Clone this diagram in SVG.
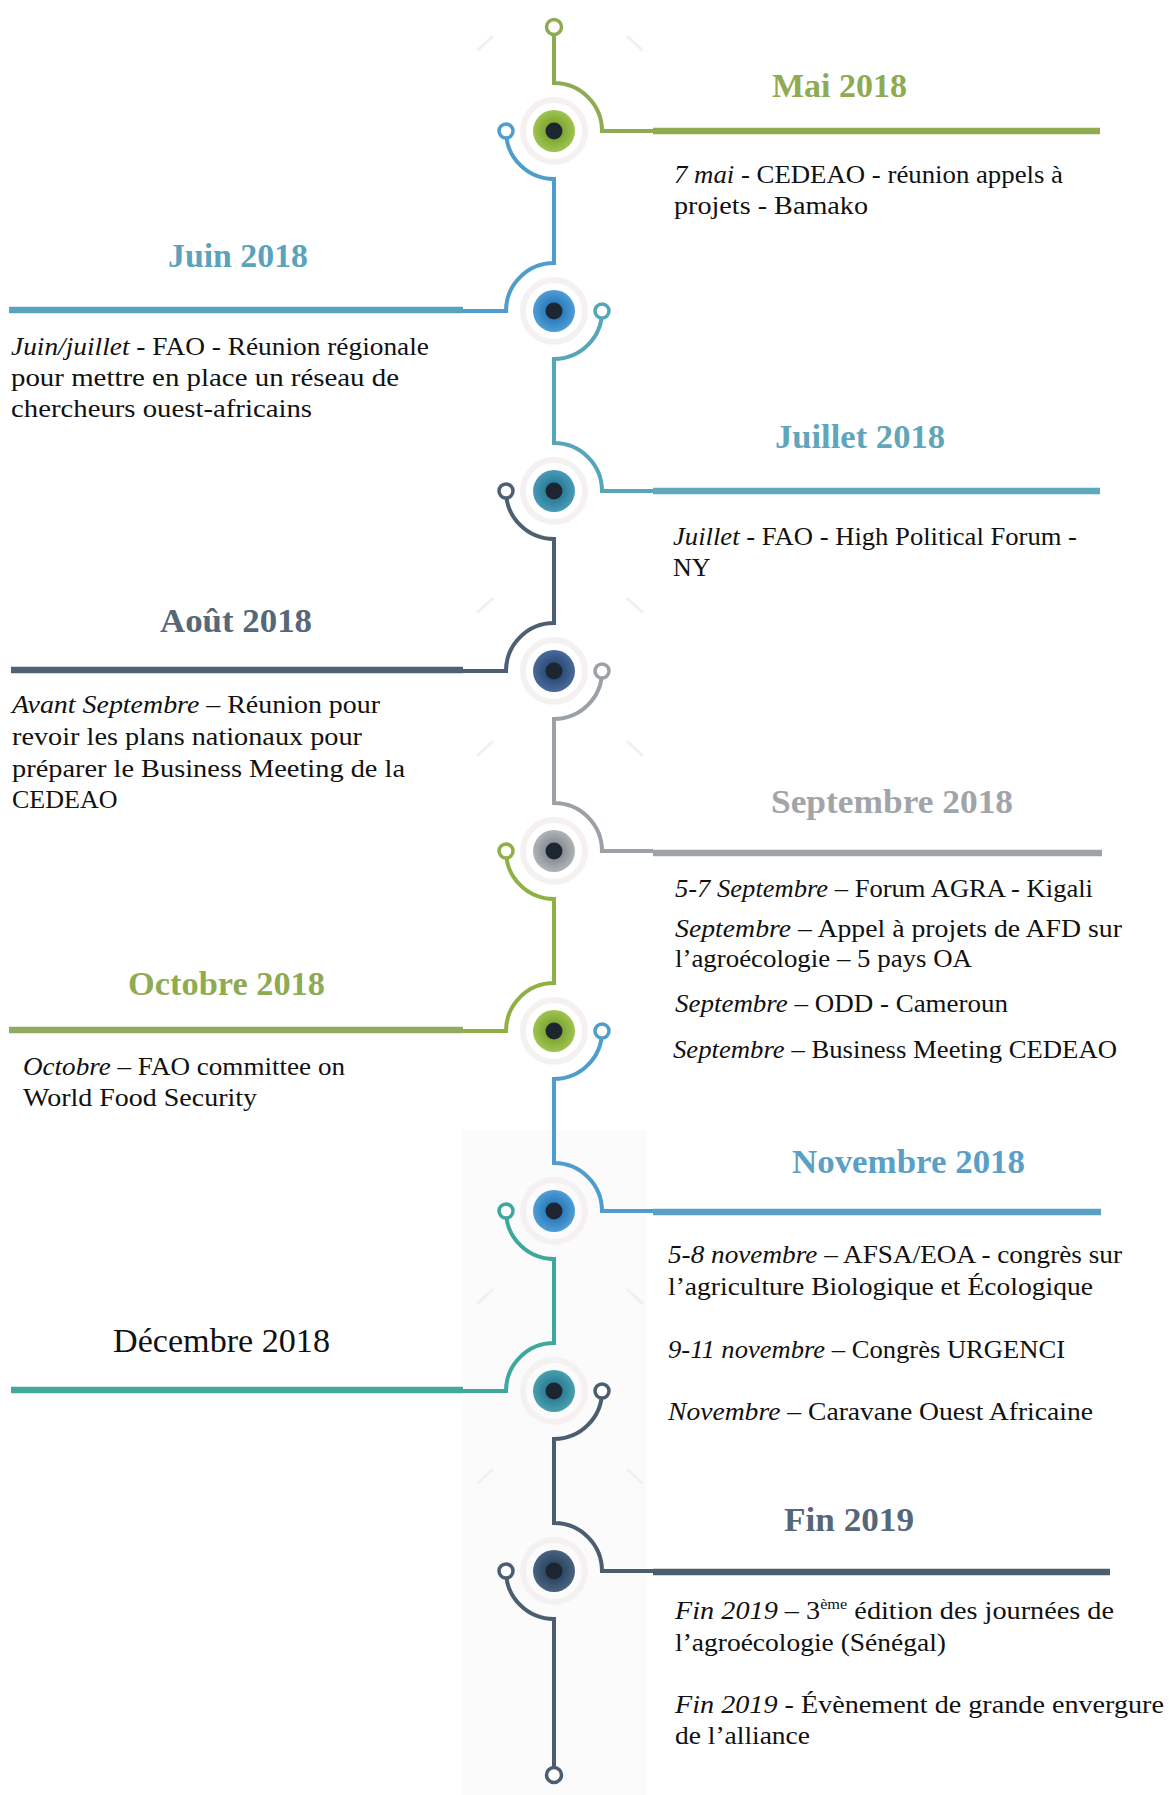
<svg xmlns="http://www.w3.org/2000/svg" width="1169" height="1795" viewBox="0 0 1169 1795">
  <defs>
    <style>
      .hd { font-family: "Liberation Serif", "Times New Roman", serif; font-weight: bold; font-size: 33px; }
      .tx { font-family: "Liberation Serif", "Times New Roman", serif; font-size: 26px; fill: #111; }
      .it { font-style: italic; }
      .thick { fill: none; stroke-width: 6.5; }
      .wire { fill: none; stroke-width: 4; }
      .tip { fill: #fff; stroke-width: 3.5; }
      .halo { fill: none; stroke: #f5f1f1; stroke-width: 6; }
      .pupil { fill: #1d2630; }
      .deco { stroke: #eef0f2; stroke-width: 3; stroke-linecap: round; fill: none; }
    </style>
    <radialGradient id="gGreen"><stop offset="0.45" stop-color="#82a836"/><stop offset="1" stop-color="#9fc450"/></radialGradient>
    <radialGradient id="gBlue"><stop offset="0.45" stop-color="#2f7fbe"/><stop offset="1" stop-color="#4f9ed6"/></radialGradient>
    <radialGradient id="gTeal"><stop offset="0.45" stop-color="#2e7f9c"/><stop offset="1" stop-color="#4a9bb8"/></radialGradient>
    <radialGradient id="gNavy"><stop offset="0.45" stop-color="#2f4f7f"/><stop offset="1" stop-color="#4a6a9a"/></radialGradient>
    <radialGradient id="gGrey"><stop offset="0.45" stop-color="#8d9297"/><stop offset="1" stop-color="#b0b4b8"/></radialGradient>
    <radialGradient id="gSea"><stop offset="0.45" stop-color="#2e8197"/><stop offset="1" stop-color="#4aa0b0"/></radialGradient>
    <radialGradient id="gSlate"><stop offset="0.45" stop-color="#304a66"/><stop offset="1" stop-color="#4a6380"/></radialGradient>
  </defs>

  <rect width="1169" height="1795" fill="#ffffff"/>

  <!-- soft backdrop behind the lower spine -->
  <rect x="463" y="1130" width="184" height="665" fill="#fbfbfc"/>

  <!-- faint corner ticks around the spine -->
  <g id="ticks" class="deco">
    <path d="M478,50 L492,37 M628,37 L642,50"/>
    <path d="M478,612 L492,599 M628,599 L642,612"/>
    <path d="M478,755 L492,742 M628,742 L642,755"/>
    <path d="M478,1303 L492,1290 M628,1290 L642,1303"/>
    <path d="M478,1483 L492,1470 M628,1470 L642,1483"/>
  </g>

  <!-- spine: stems, arcs and end tips -->
  <g id="connectors">
    <!-- top stem into Mai -->
    <path class="wire" stroke="#8fab52" d="M554,35 V83 A48,48 0 0 1 602,131 H653"/>
    <circle class="tip" stroke="#8fab52" cx="554" cy="27" r="7.5"/>
    <!-- Mai -> Juin -->
    <path class="wire" stroke="#4f9dcc" d="M506,131 A48,48 0 0 0 554,179 V263 A48,48 0 0 0 506,311 H463"/>
    <circle class="tip" stroke="#4f9dcc" cx="506" cy="131" r="7"/>
    <!-- Juin -> Juillet -->
    <path class="wire" stroke="#55a6b8" d="M602,311 A48,48 0 0 1 554,359 V443 A48,48 0 0 1 602,491 H653"/>
    <circle class="tip" stroke="#55a6b8" cx="602" cy="311" r="7"/>
    <!-- Juillet -> Aout -->
    <path class="wire" stroke="#4d6072" d="M506,491 A48,48 0 0 0 554,539 V623 A48,48 0 0 0 506,671 H463"/>
    <circle class="tip" stroke="#4d6072" cx="506" cy="491" r="7"/>
    <!-- Aout -> Septembre -->
    <path class="wire" stroke="#9ca1a7" d="M602,671 A48,48 0 0 1 554,719 V803 A48,48 0 0 1 602,851 H653"/>
    <circle class="tip" stroke="#9ca1a7" cx="602" cy="671" r="7"/>
    <!-- Septembre -> Octobre -->
    <path class="wire" stroke="#8fb044" d="M506,851 A48,48 0 0 0 554,899 V983 A48,48 0 0 0 506,1031 H463"/>
    <circle class="tip" stroke="#8fb044" cx="506" cy="851" r="7"/>
    <!-- Octobre -> Novembre -->
    <path class="wire" stroke="#4f9dcc" d="M602,1031 A48,48 0 0 1 554,1079 V1163 A48,48 0 0 1 602,1211 H653"/>
    <circle class="tip" stroke="#4f9dcc" cx="602" cy="1031" r="7"/>
    <!-- Novembre -> Decembre -->
    <path class="wire" stroke="#3fa79b" d="M506,1211 A48,48 0 0 0 554,1259 V1343 A48,48 0 0 0 506,1391 H463"/>
    <circle class="tip" stroke="#3fa79b" cx="506" cy="1211" r="7"/>
    <!-- Decembre -> Fin 2019 -->
    <path class="wire" stroke="#4b5d6f" d="M602,1391 A48,48 0 0 1 554,1439 V1523 A48,48 0 0 1 602,1571 H653"/>
    <circle class="tip" stroke="#4b5d6f" cx="602" cy="1391" r="7"/>
    <!-- tail below Fin 2019 -->
    <path class="wire" stroke="#4b5d6f" d="M506,1571 A48,48 0 0 0 554,1619 V1767"/>
    <circle class="tip" stroke="#4b5d6f" cx="506" cy="1571" r="7"/>
    <circle class="tip" stroke="#4b5d6f" cx="554" cy="1775" r="7.5"/>
  </g>

  <g id="node-mai">
    <line class="thick" stroke="#8fab52" x1="653" y1="131" x2="1100" y2="131"/>
    <circle class="halo" cx="554" cy="131" r="31"/>
    <circle cx="554" cy="131" r="21" fill="url(#gGreen)"/>
    <circle class="pupil" cx="554" cy="131" r="8.5"/>
    <text class="hd" fill="#8fab52" x="772" y="97" textLength="135" lengthAdjust="spacingAndGlyphs">Mai 2018</text>
    <text class="tx" x="674" y="183" textLength="389" lengthAdjust="spacingAndGlyphs"><tspan class="it">7 mai</tspan> - CEDEAO - réunion appels à</text>
    <text class="tx" x="674" y="214" textLength="194" lengthAdjust="spacingAndGlyphs">projets - Bamako</text>
  </g>

  <g id="node-juin">
    <line class="thick" stroke="#58a3bb" x1="9" y1="310" x2="463" y2="310"/>
    <circle class="halo" cx="554" cy="311" r="31"/>
    <circle cx="554" cy="311" r="21" fill="url(#gBlue)"/>
    <circle class="pupil" cx="554" cy="311" r="8.5"/>
    <text class="hd" fill="#5aa3bc" x="168" y="267" textLength="140" lengthAdjust="spacingAndGlyphs">Juin 2018</text>
    <text class="tx" x="11" y="355" textLength="418" lengthAdjust="spacingAndGlyphs"><tspan class="it">Juin/juillet</tspan> - FAO - Réunion régionale</text>
    <text class="tx" x="11" y="386" textLength="388" lengthAdjust="spacingAndGlyphs">pour mettre en place un réseau de</text>
    <text class="tx" x="11" y="417" textLength="301" lengthAdjust="spacingAndGlyphs">chercheurs ouest-africains</text>
  </g>

  <g id="node-juillet">
    <line class="thick" stroke="#5fa8bd" x1="653" y1="491" x2="1100" y2="491"/>
    <circle class="halo" cx="554" cy="491" r="31"/>
    <circle cx="554" cy="491" r="21" fill="url(#gTeal)"/>
    <circle class="pupil" cx="554" cy="491" r="8.5"/>
    <text class="hd" fill="#5fa6bc" x="775" y="448" textLength="170" lengthAdjust="spacingAndGlyphs">Juillet 2018</text>
    <text class="tx" x="673" y="545" textLength="404" lengthAdjust="spacingAndGlyphs"><tspan class="it">Juillet</tspan> - FAO - High Political Forum -</text>
    <text class="tx" x="673" y="576">NY</text>
  </g>

  <g id="node-aout">
    <line class="thick" stroke="#4f6172" x1="11" y1="670" x2="463" y2="670"/>
    <circle class="halo" cx="554" cy="671" r="31"/>
    <circle cx="554" cy="671" r="21" fill="url(#gNavy)"/>
    <circle class="pupil" cx="554" cy="671" r="8.5"/>
    <text class="hd" fill="#566777" x="160" y="632" textLength="152" lengthAdjust="spacingAndGlyphs">Août 2018</text>
    <text class="tx" x="12" y="713" textLength="368" lengthAdjust="spacingAndGlyphs"><tspan class="it">Avant Septembre</tspan> – Réunion pour</text>
    <text class="tx" x="12" y="745" textLength="350" lengthAdjust="spacingAndGlyphs">revoir les plans nationaux pour</text>
    <text class="tx" x="12" y="777" textLength="393" lengthAdjust="spacingAndGlyphs">préparer le Business Meeting de la</text>
    <text class="tx" x="12" y="808">CEDEAO</text>
  </g>

  <g id="node-septembre">
    <line class="thick" stroke="#9fa3a8" x1="653" y1="853" x2="1102" y2="853"/>
    <circle class="halo" cx="554" cy="851" r="31"/>
    <circle cx="554" cy="851" r="21" fill="url(#gGrey)"/>
    <circle class="pupil" cx="554" cy="851" r="8.5"/>
    <text class="hd" fill="#a1a5aa" x="771" y="813" textLength="242" lengthAdjust="spacingAndGlyphs">Septembre 2018</text>
    <text class="tx" x="675" y="897" textLength="418" lengthAdjust="spacingAndGlyphs"><tspan class="it">5-7 Septembre</tspan> – Forum AGRA - Kigali</text>
    <text class="tx" x="675" y="937" textLength="447" lengthAdjust="spacingAndGlyphs"><tspan class="it">Septembre</tspan> – Appel à projets de AFD sur</text>
    <text class="tx" x="675" y="967" textLength="297" lengthAdjust="spacingAndGlyphs">l’agroécologie – 5 pays OA</text>
    <text class="tx" x="675" y="1012" textLength="333" lengthAdjust="spacingAndGlyphs"><tspan class="it">Septembre</tspan> – ODD - Cameroun</text>
    <text class="tx" x="673" y="1058" textLength="444" lengthAdjust="spacingAndGlyphs"><tspan class="it">Septembre</tspan> – Business Meeting CEDEAO</text>
  </g>

  <g id="node-octobre">
    <line class="thick" stroke="#8fab60" x1="9" y1="1030" x2="463" y2="1030"/>
    <circle class="halo" cx="554" cy="1031" r="31"/>
    <circle cx="554" cy="1031" r="21" fill="url(#gGreen)"/>
    <circle class="pupil" cx="554" cy="1031" r="8.5"/>
    <text class="hd" fill="#8fab52" x="128" y="995" textLength="197" lengthAdjust="spacingAndGlyphs">Octobre 2018</text>
    <text class="tx" x="23" y="1075" textLength="322" lengthAdjust="spacingAndGlyphs"><tspan class="it">Octobre</tspan> – FAO committee on</text>
    <text class="tx" x="23" y="1106" textLength="234" lengthAdjust="spacingAndGlyphs">World Food Security</text>
  </g>

  <g id="node-novembre">
    <line class="thick" stroke="#5a9fc6" x1="653" y1="1212" x2="1101" y2="1212"/>
    <circle class="halo" cx="554" cy="1211" r="31"/>
    <circle cx="554" cy="1211" r="21" fill="url(#gBlue)"/>
    <circle class="pupil" cx="554" cy="1211" r="8.5"/>
    <text class="hd" fill="#5b9fc6" x="792" y="1173" textLength="233" lengthAdjust="spacingAndGlyphs">Novembre 2018</text>
    <text class="tx" x="668" y="1263" textLength="454" lengthAdjust="spacingAndGlyphs"><tspan class="it">5-8 novembre</tspan> – AFSA/EOA - congrès sur</text>
    <text class="tx" x="668" y="1295" textLength="425" lengthAdjust="spacingAndGlyphs">l’agriculture Biologique et Écologique</text>
    <text class="tx" x="668" y="1358" textLength="397" lengthAdjust="spacingAndGlyphs"><tspan class="it">9-11 novembre</tspan> – Congrès URGENCI</text>
    <text class="tx" x="668" y="1420" textLength="425" lengthAdjust="spacingAndGlyphs"><tspan class="it">Novembre</tspan> – Caravane Ouest Africaine</text>
  </g>

  <g id="node-decembre">
    <line class="thick" stroke="#43a89c" x1="11" y1="1390" x2="463" y2="1390"/>
    <circle class="halo" cx="554" cy="1391" r="31"/>
    <circle cx="554" cy="1391" r="21" fill="url(#gSea)"/>
    <circle class="pupil" cx="554" cy="1391" r="8.5"/>
    <text class="tx" style="font-size:33px" x="113" y="1352" textLength="217" lengthAdjust="spacingAndGlyphs">Décembre 2018</text>
  </g>

  <g id="node-fin-2019">
    <line class="thick" stroke="#4b5d6f" x1="653" y1="1572" x2="1110" y2="1572"/>
    <circle class="halo" cx="554" cy="1571" r="31"/>
    <circle cx="554" cy="1571" r="21" fill="url(#gSlate)"/>
    <circle class="pupil" cx="554" cy="1571" r="8.5"/>
    <text class="hd" fill="#56677a" x="784" y="1531" textLength="130" lengthAdjust="spacingAndGlyphs">Fin 2019</text>
    <text class="tx" x="675" y="1619" textLength="439" lengthAdjust="spacingAndGlyphs"><tspan class="it">Fin 2019</tspan> – 3<tspan font-size="15" dy="-10">ème</tspan><tspan dy="10"> édition des journées de</tspan></text>
    <text class="tx" x="675" y="1651" textLength="271" lengthAdjust="spacingAndGlyphs">l’agroécologie (Sénégal)</text>
    <text class="tx" x="675" y="1713" textLength="489" lengthAdjust="spacingAndGlyphs"><tspan class="it">Fin 2019</tspan> - Évènement de grande envergure</text>
    <text class="tx" x="675" y="1744" textLength="135" lengthAdjust="spacingAndGlyphs">de l’alliance</text>
  </g>
</svg>
